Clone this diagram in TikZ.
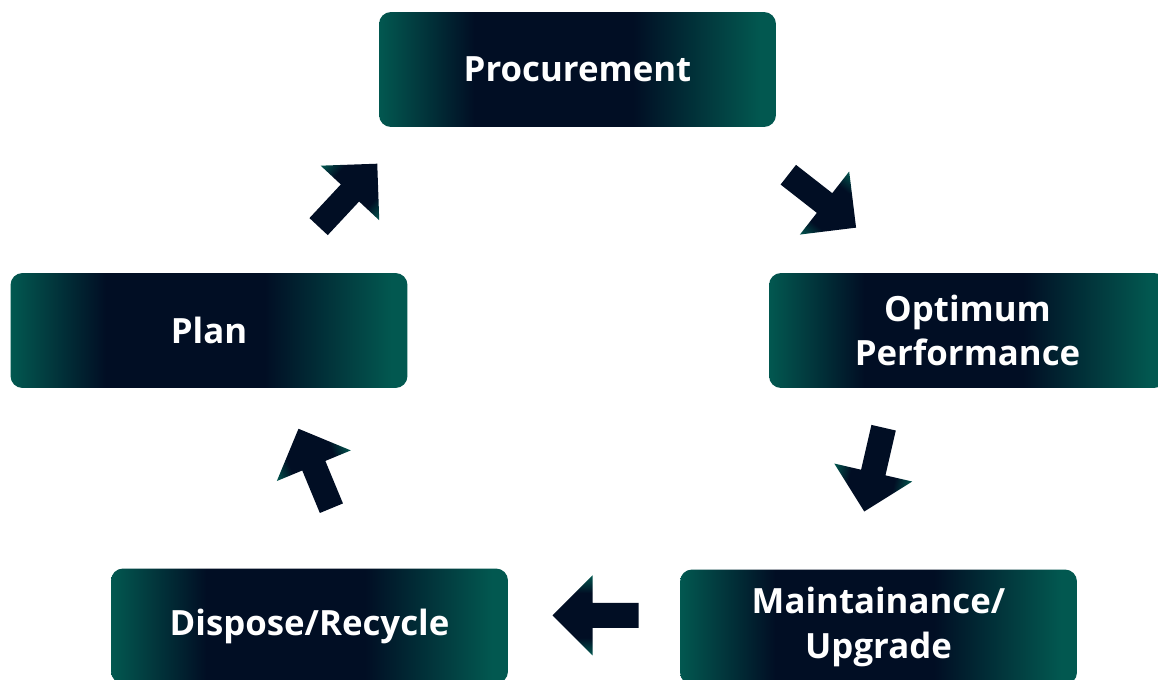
\documentclass[tikz,border=0pt]{standalone}
\usepackage{fontspec}
\setmainfont{Open Sans}
\definecolor{tealc}{RGB}{2,88,80}
\definecolor{navyc}{RGB}{1,14,36}
\pgfdeclarehorizontalshading{boxshade}{100bp}{color(0bp)=(tealc); color(25bp)=(tealc); color(37bp)=(navyc); color(57bp)=(navyc); color(73bp)=(tealc); color(100bp)=(tealc)}
\pgfdeclareverticalshading{arrowshade}{100bp}{color(0bp)=(tealc); color(25bp)=(tealc); color(36bp)=(navyc); color(64bp)=(navyc); color(75bp)=(tealc); color(100bp)=(tealc)}
\newcommand\blockarrow[2]{%
  \begin{scope}[transform canvas={shift={(#1)},rotate=#2}]
    \shade[shading=arrowshade] (0,-12.5) -- (46,-12.5) -- (46,-40) -- (86,0) -- (46,40) -- (46,12.5) -- (0,12.5) -- cycle;
  \end{scope}}
\tikzset{
  stagebox/.style={minimum width=7.94cm, minimum height=2.3cm, inner sep=0pt,
    rounded corners=0.24cm, shading=boxshade, text=white, align=center,
    font=\fontsize{19.8}{25.2}\selectfont\bfseries}
}
\begin{document}
\begin{tikzpicture}[x=0.02cm,y=0.02cm]
\useasboundingbox (0,0) rectangle (1158,-679);
\fill[white] (0,0) rectangle (1158,-679);
\clip (0,0) rectangle (1158,-679);
\node[stagebox] (proc) at (577.5,-69.5) {Procurement};
\node[stagebox] (opt) at (967.5,-330.5) {Optimum\\Performance};
\node[stagebox] (maint) at (878.5,-627) {Maintainance/\\Upgrade};
\node[stagebox] (disp) at (309.5,-626) {Dispose/Recycle};
\node[stagebox] (plan) at (209,-330.5) {Plan};
\coordinate (t1) at (318.6,-226.6);
\coordinate (t2) at (788.3,-174.7);
\coordinate (t3) at (883.6,-427.7);
\coordinate (t4) at (638.5,-615.3);
\coordinate (t5) at (331.4,-508.2);
\blockarrow{t1}{47}
\blockarrow{t2}{-38}
\blockarrow{t3}{-103}
\blockarrow{t4}{180}
\blockarrow{t5}{112.5}
\end{tikzpicture}
\end{document}
